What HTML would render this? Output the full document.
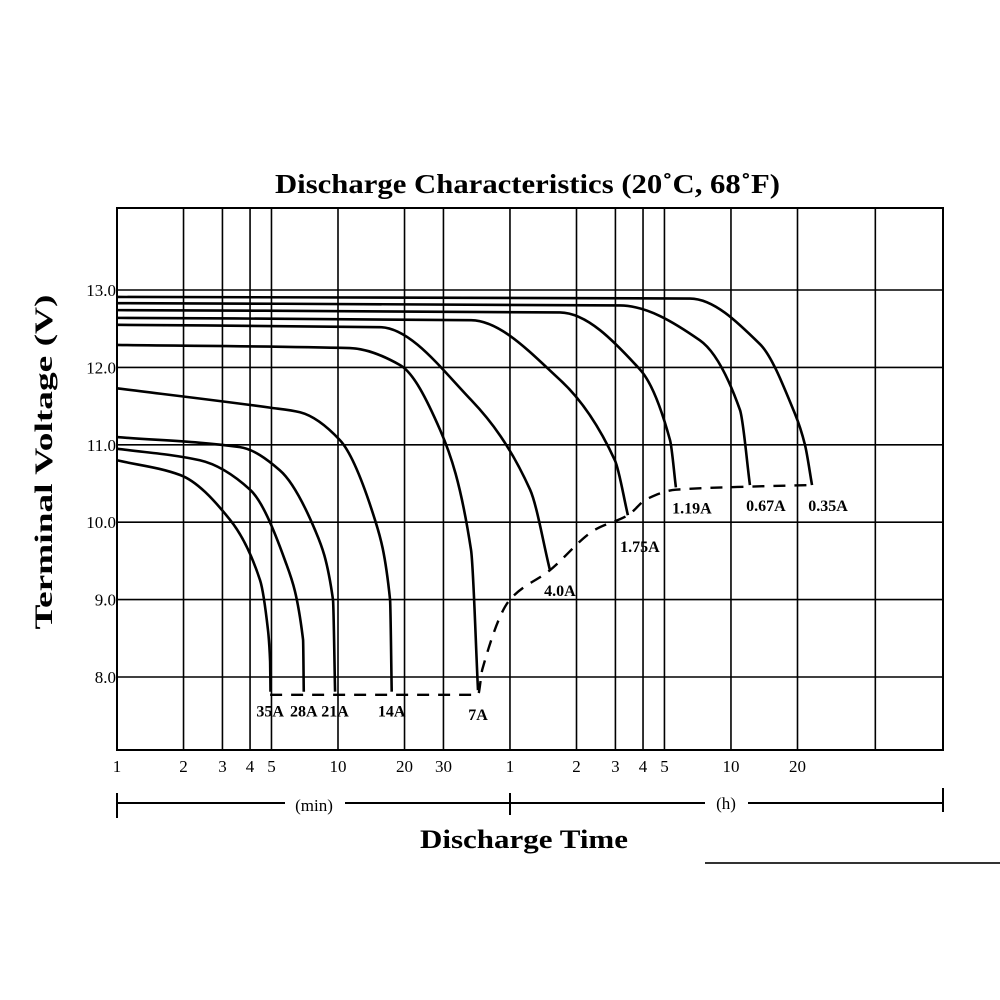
<!DOCTYPE html>
<html><head><meta charset="utf-8"><style>
html,body{margin:0;padding:0;background:#fff;}
svg{display:block;font-family:"Liberation Serif",serif;}
</style></head><body>
<svg id="chart" width="1000" height="1000" viewBox="0 0 1000 1000">
<text x="275" y="193" textLength="505" lengthAdjust="spacingAndGlyphs" font-size="27" font-weight="bold">Discharge Characteristics (20˚C, 68˚F)</text>
<text transform="translate(52,462) rotate(-90)" text-anchor="middle" textLength="335" lengthAdjust="spacingAndGlyphs" font-size="25" font-weight="bold">Terminal Voltage (V)</text>
<text x="420" y="848" textLength="208" lengthAdjust="spacingAndGlyphs" font-size="26" font-weight="bold">Discharge Time</text>
<g id="grid"></g>
<g id="curves"></g>
<g id="labels"></g>
<g id="xaxis"></g>
<g id="yaxis"></g>
<g stroke="#000" stroke-width="2">
<line x1="117" y1="803" x2="285" y2="803"/><line x1="345" y1="803" x2="510" y2="803"/>
<line x1="510" y1="803" x2="705" y2="803"/><line x1="748" y1="803" x2="943" y2="803"/>
<line x1="117" y1="793" x2="117" y2="818"/><line x1="510" y1="793" x2="510" y2="815"/><line x1="943" y1="788" x2="943" y2="812"/>
</g>
<text x="314" y="811" text-anchor="middle" font-size="17">(min)</text>
<text x="726" y="809" text-anchor="middle" font-size="17">(h)</text>
<line x1="705" y1="863" x2="1000" y2="863" stroke="#333" stroke-width="2"/>
</svg>
<script>
const gridTimes=[1,2,3,4,5,10,20,30,60,120,180,240,300,600,1200,2700];
const xTickVals=[1,2,3,4,5,10,20,30,60,120,180,240,300,600,1200];
const xTickLabels=["1","2","3","4","5","10","20","30","1","2","3","4","5","10","20"];
const yTicks=[8,9,10,11,12,13];
const curveNames=["35A","28A","21A","14A","7A","4.0A","1.75A","1.19A","0.67A","0.35A"];
const c35t=[1,1.93,3.25,4.44,4.82,4.93,4.95];const c35v=[10.8,10.61,10.03,9.25,8.61,8.2,7.81];
const c28t=[1,2.37,4,5.75,6.95,7.0];const c28v=[10.95,10.8,10.42,9.51,8.48,7.81];
const c21t=[1,3.6,5.46,7.87,9.49,9.7];const c21v=[11.1,10.97,10.67,9.9,9.0,7.81];
const c14t=[1,4.92,6.73,10.2,14.7,17.2,17.5];const c14v=[11.73,11.48,11.42,11.06,10.03,9.0,7.81];
const c7t=[1,11.3,19.1,29,40,43];const c7v=[12.29,12.25,12.03,11.19,9.64,7.83];
const c4t=[1,15.5,40,74,91];const c4v=[12.55,12.52,11.58,10.42,9.38];
const c175t=[1,40,101,179,205];const c175v=[12.64,12.61,11.84,10.8,10.09];
const c119t=[1,101,233,318,338];const c119v=[12.74,12.71,11.97,11.06,10.45];
const c067t=[1,189,434,659,731];const c067v=[12.83,12.8,12.35,11.45,10.48];
const c035t=[1,392,812,1169,1297,1396];const c035v=[12.91,12.89,12.3,11.4,11.0,10.48];
const cutT=[4.93,43,45,60,91,145,205,250,338,731,1396];
const cutV=[7.77,7.77,8.1,9.0,9.38,9.9,10.09,10.3,10.42,10.46,10.48];
const labelAnchors=[4.93,7.0,9.7,17.5,43,91,205,338,731,1396];

const NS="http://www.w3.org/2000/svg";
const X=t=>117+221*Math.log10(t);
const Y=v=>290+(13-v)*77.4;
function mk(tag,attrs,parent){const e=document.createElementNS(NS,tag);for(const k in attrs)e.setAttribute(k,attrs[k]);parent.appendChild(e);return e;}
const grid=document.getElementById('grid');
const frame=mk('rect',{x:117,y:208,width:826,height:542,fill:'none',stroke:'#000','stroke-width':2},grid);


gridTimes.forEach(t=>{const l=mk('line',{x1:X(t),y1:208,x2:X(t),y2:750,stroke:'#000','stroke-width':1.6},grid);

});
yTicks.forEach(v=>{const l=mk('line',{x1:117,y1:Y(v),x2:943,y2:Y(v),stroke:'#000','stroke-width':1.6},grid);

});
const ya=document.getElementById('yaxis');
yTicks.forEach(v=>{const t=mk('text',{x:116,y:Y(v)+6,'text-anchor':'end','font-size':17},ya);t.textContent=v.toFixed(1);

});
const xa=document.getElementById('xaxis');
xTickVals.forEach((v,i)=>{const t=mk('text',{x:X(v),y:772,'text-anchor':'middle','font-size':17},xa);t.textContent=xTickLabels[i];

});
const cg=document.getElementById('curves');
const series=[[c35t,c35v],[c28t,c28v],[c21t,c21v],[c14t,c14v],[c7t,c7v],[c4t,c4v],[c175t,c175v],[c119t,c119v],[c067t,c067v],[c035t,c035v]];
// monotone cubic (Fritsch-Carlson) in pixel space
function pathD(ts,vs){const p=ts.map((t,i)=>[X(t),Y(vs[i])]);const n=p.length;
const d=[],m=new Array(n);
for(let i=0;i<n-1;i++){const dx=Math.max(p[i+1][0]-p[i][0],0.01);d.push((p[i+1][1]-p[i][1])/dx);}
m[0]=d[0];m[n-1]=d[n-2];
for(let i=1;i<n-1;i++){m[i]=(d[i-1]*d[i]<=0)?0:2/(1/d[i-1]+1/d[i]);}
let s='M'+p[0][0]+','+p[0][1];
for(let i=0;i<n-1;i++){const h=(p[i+1][0]-p[i][0])/3;
s+=' C'+(p[i][0]+h)+','+(p[i][1]+m[i]*h)+' '+(p[i+1][0]-h)+','+(p[i+1][1]-m[i+1]*h)+' '+p[i+1][0]+','+p[i+1][1];}
return s;}
series.forEach((s,i)=>{const p=mk('path',{d:pathD(s[0],s[1]),fill:'none',stroke:'#000','stroke-width':2.6},cg);

});
const cut=mk('path',{d:pathD(cutT,cutV),fill:'none',stroke:'#000','stroke-width':2.4,'stroke-dasharray':'12,9'},cg);


const lg=document.getElementById('labels');
labelAnchors.forEach((t,i)=>{const ser=series[i];const v=ser[1][ser[1].length-1];
let x=X(t),y=Y(v)+25;
if(i==4){y=Y(v)+30;}
if(i==5){x=X(t)+10;y=Y(v)+26;}
if(i==6){x=X(t)+12;y=Y(v)+37;}
if(i>=7){x=X(t)+16;y=Y(v)+26;}
const r=mk('text',{x:x,y:y,'text-anchor':'middle','font-size':16,'font-weight':'bold'},lg);r.textContent=curveNames[i];

});
</script>
</body></html>
